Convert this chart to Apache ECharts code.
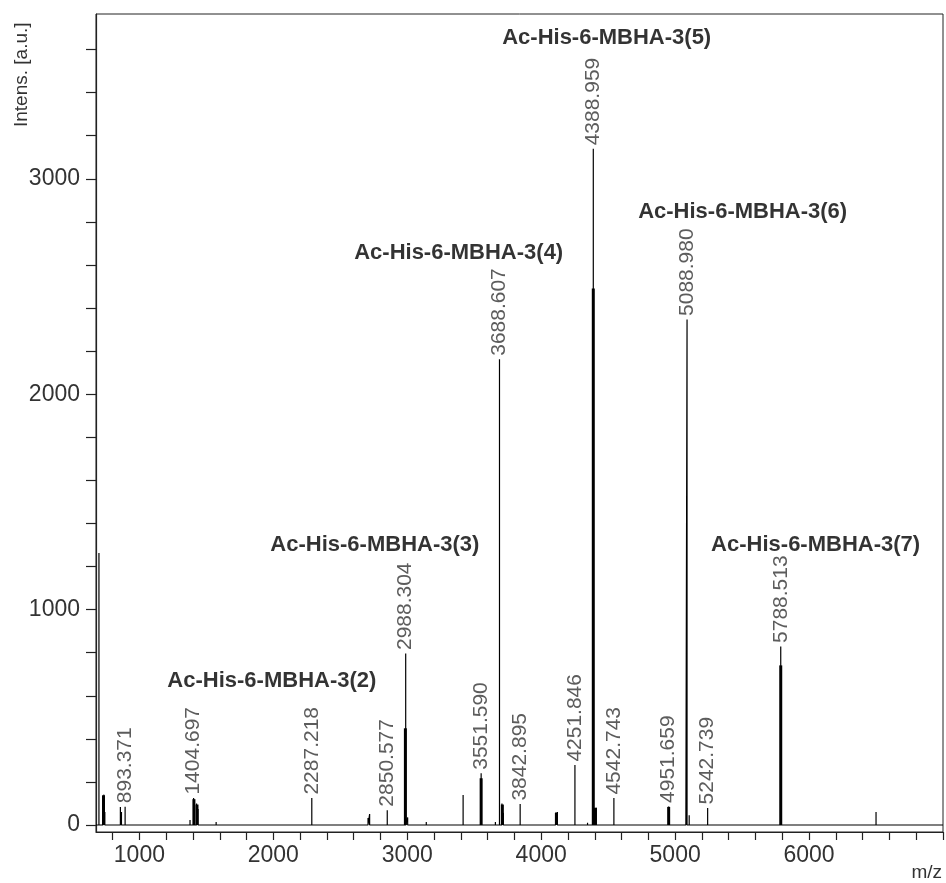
<!DOCTYPE html>
<html><head><meta charset="utf-8">
<script src="https://cdn.jsdelivr.net/npm/echarts@6/dist/echarts.min.js"></script>
<style>html,body{margin:0;padding:0;background:#fff}#c{width:946px;height:883px}</style>
</head><body><div id="c"></div>
<script>
// axis ranges and ticks
const xMin = 676, xMax = 7000, yMin = -32.5, yMax = 3765;
const xLabelValues = [1000, 2000, 3000, 4000, 5000, 6000];
const yLabelValues = [0, 1000, 2000, 3000];
const xTickStep = 200, yTickStep = 200;

// thin spectral sticks (m/z, intensity)
const stickMz  = [698, 728, 735, 742, 858, 866, 893.371, 1378, 1404.697, 1427, 1438, 1573, 1999, 2148, 2287.218, 2574, 2707, 2719, 2850.577, 2988.304, 3003, 3142, 3284, 3417, 3551.590, 3658, 3688.607, 3707, 3718, 3842.895, 4107, 4121, 4251.846, 4346, 4388.959, 4410, 4542.743, 4951.659, 5080, 5088.980, 5105, 5242.739, 5788.513, 5950, 6500];
const stickInt = [1263, 135, 141, 60, 84, 60, 85, 23, 125, 100, 74, 14, 6, 8, 125, 8, 33, 51, 69, 796, 35, 14, 9, 139, 240, 14, 2162, 100, 56, 97, 56, 60, 278, 10, 3139, 80, 125, 86, 10, 2347, 45, 79, 829, 9, 60];

// thick peak bodies (isotope envelopes)
const bodyMz  = [732, 1407, 1430, 2986, 3551.590, 3710, 4114, 4388.959, 4405, 4951.659, 5788.513];
const bodyInt = [138, 120, 95, 449, 217, 95, 58, 2491, 80, 84, 741];

// labelled peaks
const labelMz  = [893.371, 1404.697, 2287.218, 2850.577, 2988.304, 3551.590, 3688.607, 3842.895, 4251.846, 4388.959, 4542.743, 4951.659, 5088.980, 5242.739, 5788.513];
const labelInt = [85, 125, 125, 69, 796, 240, 2162, 97, 278, 3139, 125, 86, 2347, 79, 829];

// compound annotations
const annotText = ['Ac-His-6-MBHA-3(2)', 'Ac-His-6-MBHA-3(3)', 'Ac-His-6-MBHA-3(4)', 'Ac-His-6-MBHA-3(5)', 'Ac-His-6-MBHA-3(6)', 'Ac-His-6-MBHA-3(7)'];
const annotMz  = [1989, 2758, 3384, 4489, 5504, 6049];
const annotInt = [671, 1300, 2657, 3653, 2847, 1300];

const FONT = "'Liberation Sans', Arial, sans-serif";

function steps(a, b, s) { const r = []; for (let v = a; v <= b + 1e-9; v += s) r.push(v); return r; }
const xTicks = steps(Math.ceil(xMin / xTickStep) * xTickStep, xMax, xTickStep);
const yTicks = steps(0, yMax, yTickStep);

// build spectrum polyline
const order = stickMz.map((m, i) => i).sort((a, b) => stickMz[a] - stickMz[b]);
const lineData = [[xMin, 0]];
order.forEach(i => { lineData.push([stickMz[i], 0], [stickMz[i], stickInt[i]], [stickMz[i], 0]); });
lineData.push([xMax, 0]);

const chart = echarts.init(document.getElementById('c'), null, { renderer: 'canvas' });
chart.setOption({
  animation: false,
  backgroundColor: '#fff',
  grid: { left: 96, right: 3, top: 14, bottom: 51, show: true, borderColor: '#222', borderWidth: 1, backgroundColor: 'transparent' },
  xAxis: {
    type: 'value', min: xMin, max: xMax,
    axisLine: { show: true, onZero: false, lineStyle: { color: '#222', width: 1.2 } },
    axisTick: { show: true, length: 8, customValues: xTicks, lineStyle: { color: '#222', width: 1.2 } },
    axisLabel: { customValues: xLabelValues, margin: 12, fontSize: 23, color: '#333', fontFamily: FONT, formatter: v => String(v) },
    splitLine: { show: false }
  },
  yAxis: {
    type: 'value', min: yMin, max: yMax,
    axisLine: { show: true, onZero: false, lineStyle: { color: '#222', width: 1.2 } },
    axisTick: { show: true, length: 10, customValues: yTicks, lineStyle: { color: '#222', width: 1.2 } },
    axisLabel: { customValues: yLabelValues, margin: 16, fontSize: 23, color: '#333', fontFamily: FONT, formatter: v => String(v) },
    splitLine: { show: false }
  },
  graphic: [
    { type: 'text', x: 22, y: 127, rotation: Math.PI / 2, silent: true,
      style: { text: 'Intens. [a.u.]', fontSize: 19, fontFamily: FONT, fill: '#333', align: 'left', verticalAlign: 'middle' } },
    { type: 'text', x: 942, y: 873, silent: true,
      style: { text: 'm/z', fontSize: 19, fontFamily: FONT, fill: '#333', align: 'right', verticalAlign: 'middle' } }
  ],
  series: [
    { type: 'line', data: lineData, symbol: 'none', silent: true, clip: true,
      lineStyle: { color: '#000', width: 1.2 } },
    { type: 'bar', data: bodyMz.map((m, i) => [m, bodyInt[i]]), barWidth: 3, silent: true,
      itemStyle: { color: '#000' } },
    { type: 'scatter', data: labelMz.map((m, i) => [m, labelInt[i]]), symbolSize: 1, silent: true,
      itemStyle: { color: 'transparent' },
      label: { show: true, position: 'top', distance: 3, rotate: 90, align: 'left', verticalAlign: 'middle',
        formatter: p => labelMz[p.dataIndex].toFixed(3), fontSize: 21, color: '#333', fontFamily: FONT } },
    { type: 'scatter', data: annotMz.map((m, i) => [m, annotInt[i]]), symbolSize: 1, silent: true,
      itemStyle: { color: 'transparent' },
      label: { show: true, position: 'inside', align: 'center', verticalAlign: 'middle',
        formatter: p => annotText[p.dataIndex], fontSize: 22, fontWeight: 'bold', color: '#000', fontFamily: FONT } }
  ]
});
</script></body></html>
